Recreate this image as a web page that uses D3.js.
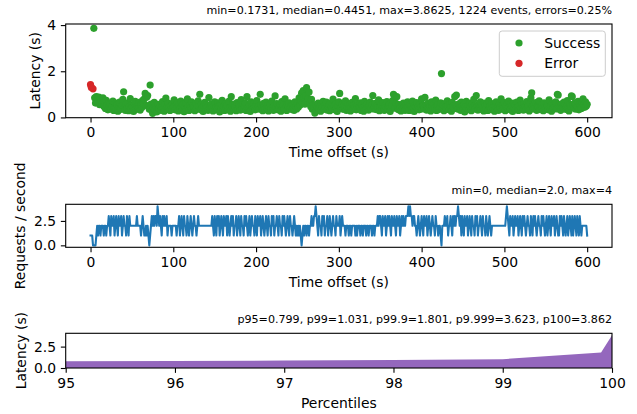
<!DOCTYPE html>
<html>
<head>
<meta charset="utf-8">
<script src="https://cdn.jsdelivr.net/npm/d3@7"></script>
<style>
  body { margin: 0; background: #fff; }
  text { font-family: "DejaVu Sans", sans-serif; fill: #000; }
</style>
</head>
<body>
<div id="chart"></div>
<script>
var svgWidth = 637;
var svgHeight = 414;

// Chart data
var scatterTitle = "min=0.1731, median=0.4451, max=3.8625, 1224 events, errors=0.25%";
var rateTitle = "min=0, median=2.0, max=4";
var percentileTitle = "p95=0.799, p99=1.031, p99.9=1.801, p9.999=3.623, p100=3.862";

var errorTimes = [0, 1, 3];
var errorLatency = [1.42, 1.30, 1.24];

// successful requests, one per second starting at successStart
var successStart = 4;
var successLatency = [
  3.86, 0.85, 0.62, 0.90, 0.75, 0.68, 0.88, 0.55, 0.80, 0.70, 0.60, 0.85, 0.48, 0.66, 0.39, 0.74, 0.52, 0.33, 0.61, 0.45,
  0.58, 0.36, 0.49, 0.71, 0.30, 0.44, 0.62, 0.38, 0.55, 0.27, 0.47, 0.66, 0.41, 0.35, 0.52, 0.78, 1.11, 0.43, 0.31, 0.57,
  0.40, 0.63, 0.29, 0.48, 0.82, 0.37, 0.54, 0.44, 0.26, 0.59, 0.70, 0.34, 0.46, 0.51, 0.39, 0.65, 0.32, 0.55, 0.43, 0.74,
  0.60, 0.81, 1.04, 0.52, 0.88, 0.95, 0.47, 0.36, 1.40, 0.58, 0.29, 0.18, 0.42, 0.65, 0.33, 0.50, 0.24, 0.45, 0.57, 0.38,
  0.53, 0.31, 0.46, 0.69, 0.40, 0.27, 0.56, 0.84, 0.35, 0.48, 0.62, 0.43, 0.30, 0.51, 0.37, 0.58, 0.45, 0.76, 0.33, 0.49,
  0.41, 0.64, 0.28, 0.52, 0.39, 0.71, 0.46, 0.34, 0.57, 0.25, 0.48, 0.62, 0.36, 0.80, 0.44, 0.30, 0.53, 0.40, 0.67, 0.35,
  0.50, 0.43, 0.29, 0.61, 0.38, 0.55, 0.72, 0.47, 1.00, 0.33, 0.58, 0.42, 0.26, 0.49, 0.65, 0.37, 0.54, 0.44, 0.31, 0.86,
  0.46, 0.35, 0.59, 0.41, 0.28, 0.52, 0.68, 0.39, 0.45, 0.33, 0.63, 0.50, 0.24, 0.56, 0.42, 0.74, 0.37, 0.48, 0.30, 0.60,
  0.44, 0.53, 0.34, 0.70, 0.40, 0.27, 0.90, 0.47, 0.58, 0.36, 0.51, 0.43, 0.29, 0.64, 0.38, 0.55, 0.45, 0.32, 0.77, 0.41,
  0.57, 0.35, 0.49, 0.62, 0.30, 0.90, 0.44, 0.39, 0.54, 0.26, 0.68, 0.46, 0.37, 0.59, 0.42, 0.33, 0.51, 0.73, 0.40, 0.48,
  0.36, 1.00, 0.55, 0.43, 0.29, 0.61, 0.47, 0.34, 0.66, 0.40, 0.52, 0.28, 0.45, 0.58, 0.37, 0.71, 0.42, 0.31, 0.50, 0.93,
  0.44, 0.60, 0.33, 0.49, 0.38, 0.56, 0.27, 0.69, 0.45, 0.52, 0.35, 0.81, 0.41, 0.30, 0.57, 0.46, 0.63, 0.39, 0.50, 0.34,
  0.55, 0.42, 0.31, 0.67, 0.48, 0.37, 0.60, 0.44, 0.85, 0.53, 0.72, 1.05, 0.62, 1.16, 0.88, 0.58, 0.95, 1.29, 0.70, 0.83,
  1.10, 0.64, 0.47, 0.78, 0.36, 0.52, 0.41, 0.19, 0.56, 0.30, 0.45, 0.62, 0.38, 0.49, 0.27, 0.58, 0.43, 0.70, 0.35, 0.51,
  0.40, 0.66, 0.32, 0.47, 0.55, 0.29, 0.61, 0.44, 0.37, 0.79, 0.48, 0.33, 0.57, 0.42, 0.26, 0.53, 0.68, 1.04, 0.39, 0.46,
  0.58, 0.35, 0.50, 0.43, 0.72, 0.31, 0.47, 0.60, 0.38, 0.54, 0.28, 0.45, 0.65, 0.36, 0.52, 0.41, 0.82, 0.33, 0.49, 0.57,
  0.39, 0.46, 0.63, 0.30, 0.55, 0.42, 0.27, 0.70, 0.48, 0.36, 0.59, 0.44, 0.32, 0.51, 0.66, 0.40, 0.53, 0.95, 0.37, 0.45,
  0.61, 0.34, 0.50, 0.43, 0.76, 0.29, 0.47, 0.56, 0.38, 0.64, 0.41, 0.31, 0.53, 0.45, 0.69, 0.35, 0.49, 0.58, 0.26, 0.44,
  0.52, 0.73, 1.00, 0.95, 0.40, 0.61, 0.90, 0.47, 0.33, 0.56, 0.42, 0.28, 0.50, 0.37, 0.62, 0.45, 0.31, 0.54, 0.39, 0.67,
  0.43, 0.30, 0.57, 0.48, 0.35, 0.71, 0.41, 0.26, 0.53, 0.46, 0.64, 0.38, 0.50, 0.33, 0.59, 0.44, 0.80, 0.37, 0.52, 0.40,
  0.87, 0.55, 0.32, 0.47, 0.62, 0.39, 0.51, 0.28, 0.68, 0.44, 0.36, 0.58, 0.42, 0.75, 0.30, 0.49, 0.56, 0.34, 0.45, 0.63,
  1.90, 0.41, 0.53, 0.29, 0.60, 0.46, 0.37, 0.72, 0.50, 0.33, 0.57, 0.43, 0.27, 0.65, 0.48, 0.39, 0.90, 0.54, 0.97, 0.44,
  0.36, 0.59, 0.42, 0.31, 0.66, 0.49, 0.38, 0.55, 0.24, 0.47, 0.70, 0.40, 0.52, 0.34, 0.61, 0.45, 0.29, 0.57, 0.43, 0.78,
  0.50, 0.37, 0.95, 0.46, 0.32, 0.58, 0.41, 0.67, 0.35, 0.53, 0.44, 0.28, 0.62, 0.48, 0.39, 0.56, 0.30, 0.73, 0.45, 0.51,
  0.34, 0.60, 0.42, 0.55, 0.27, 0.49, 0.68, 0.38, 0.46, 0.31, 0.57, 0.43, 0.80, 0.36, 0.52, 0.40, 0.64, 0.29, 0.47, 0.54,
  0.39, 0.71, 0.45, 0.33, 0.58, 0.48, 0.26, 0.62, 0.41, 0.53, 0.36, 0.66, 0.44, 0.30, 0.50, 0.75, 0.38, 0.56, 0.42, 0.32,
  0.59, 0.46, 0.35, 0.69, 0.43, 0.52, 0.28, 0.60, 0.85, 1.07, 0.48, 0.37, 0.55, 0.41, 0.64, 0.31, 0.50, 0.45, 0.72, 0.34,
  0.47, 0.56, 0.40, 0.29, 0.63, 0.44, 0.36, 0.58, 0.51, 0.33, 0.76, 0.42, 0.48, 0.27, 0.61, 0.39, 0.54, 0.45, 0.68, 0.37,
  1.00, 0.97, 0.50, 0.43, 0.31, 0.59, 0.46, 0.38, 0.66, 0.52, 0.35, 0.44, 0.73, 0.40, 0.28, 0.57, 0.48, 0.93, 0.90, 0.55,
  0.42, 0.63, 0.36, 0.51, 0.45, 0.70, 0.33, 0.58, 0.47, 0.39, 0.62, 0.80, 0.54, 0.44, 0.68, 0.49, 0.57
];

// requests per second, one value per second from t = 0
var requestsPerSecond = [
  1,1,1,0,0,0,0,1, 2,1,2,2,1,2,2,2,1,2,2,1,2,2, 3,2,1,3,2,2,3,1,2,3,2,1,3,2,2,3,1,2,3,2,2,1,3,2,1,3,2,2,
  2,2,2,2,2,2,3,2,2,2, 2,1,2,3,2,1,1,2,1,2,1,0, 1,2,3,2,3,2,3,3,2, 4, 3,2,3,2,1,3,2,3,2,2,3,1,2, 2,2,2,1,2,
  2,2,2,2,1,2,2, 3,1,2,3,2,1,3,2,2,1,3,2,1,2,3,2,1,2,3,2,2,1,2,3, 2,2,2,2,2,2,2,2,2,2,2,2,2,2,2,2, 3,2,1,
  3,2,1,3,2,3,1,2,3,2, 1,3,2,2,3,1,3,2,1,2, 3,2,3,1,2,2,3,1,2,3, 2,1,3,2,2,1,3,2,3,2, 1,2,3,1,2,3,2,2,1,3,
  2,1,3,2,2,3,1,2,3,2, 1,2,3,2,1,3,2,2,1,3, 2,3,1,2,2,3,2,1,3,2, 2,1,3,2,3,2,1,2,3,2, 1,3,2,2,1,2,3,2,1,2,
  1,2,1,2,1,0,1,2,1,2,2,1,2,2,1,2,2,3,2, 2,3,3, 4, 3,2,1,3,2,2,1,3,2,3,1,2,2,3,1,2,3,2,1,2,3,2,2,1,3,2,2,
  2,3,1,2,3,2, 2,2,1,2,2,2,1,2,2,1, 2,2,2,2,1,2,1,2,2,2, 1,2,2,1,2,2,2,1,2,2, 1,2,2,2,1,2,2,1,2,2, 2,3, 2,3,
  3,2,1,3,2,2,3,1,2,3, 2,3,2,1,3,2,2,3,2,1, 3,2,2,3,1,2,3,2,3,2, 2,3, 3,3,4,3,4,3,3,2,3,3, 2,2,1,2,3,2,1,2,
  3,2,1,3,2,2,3,1,2,3,2,1,2,3,2,2,1,3,2,2,1,2,2,1, 0, 2,2,2,3,2,2,3,1,2,2,3,2,1,3,2,3,2,3,3, 4, 3,2,3,1,3,
  2,1,3,2,2,3,1,2,3,2, 1,3,2,2,1,3,2,3,1,2, 2,3,2,1,3,2,2,1,3,2, 1,2,3,2,1, 2,2,2,2,2,2,2,2,2,2,2,2,2,2,2,
  2,2,3, 4, 3,2,1,3,2,2,3,1,2,3, 2,2,3,1,2,3,2,1,3,2, 3,2,1,2,3,2,2,1,3,2, 1,3,2,3,2,1,2,3,2,2, 1,3,2,3,2,1,
  2,3,1,2,3,2,1,3,2,2, 3,1,2,3,2,1,1,3,2,3, 2,1,3,2,1,2,3,1,2,3, 2,1,3,1,2,3,2,1,3,2, 1,3,2,1, 2,2,2,2,2,2,
  1
];

var percentiles = [95, 96, 97, 98, 99, 99.9, 99.99, 100];
var percentileLatency = [0.799, 0.83, 0.87, 0.93, 1.031, 1.801, 3.623, 3.862];

var timeTicks = [0, 100, 200, 300, 400, 500, 600];
var latencyTicks = [0, 2, 4];
var rateTicks = [0, 2.5];
var percentileTicks = [95, 96, 97, 98, 99, 100];

var legendLabels = ["Success", "Error"];
var legendColors = ["#2ca02c", "#d62728"];

// layout
var plotLeft = 65.7;
var plotRight = 612;
var tickLen = 4.86;
var tickFont = "13.9px";

var svg = d3.select("#chart")
  .append("svg")
  .attr("width", svgWidth)
  .attr("height", svgHeight);

// draws the box, ticks, title and labels for one panel
function drawFrame(xScale, yScale, xTicks, yTicks, yFormat, top, bottom, title, xLabel, yLabel, yLabelX) {
  var xAxis = svg.append("g")
    .attr("transform", `translate(0, ${bottom})`)
    .call(d3.axisBottom(xScale).tickValues(xTicks).tickSize(tickLen).tickPadding(tickLen).tickFormat(d3.format("d")));
  var yAxis = svg.append("g")
    .attr("transform", `translate(${plotLeft}, 0)`)
    .call(d3.axisLeft(yScale).tickValues(yTicks).tickSize(tickLen).tickPadding(tickLen).tickFormat(yFormat));

  [xAxis, yAxis].forEach(function(ax) {
    ax.select(".domain").remove();
    ax.selectAll(".tick line").attr("stroke", "#000").attr("stroke-width", 1.1);
    ax.selectAll(".tick text")
      .attr("font-family", "DejaVu Sans")
      .attr("font-size", tickFont)
      .attr("fill", "#000");
  });

  svg.append("rect")
    .attr("x", plotLeft)
    .attr("y", top)
    .attr("width", plotRight - plotLeft)
    .attr("height", bottom - top)
    .attr("fill", "none")
    .attr("stroke", "#000")
    .attr("stroke-width", 1.1);

  svg.append("text")
    .attr("x", plotRight)
    .attr("y", top - 10.5)
    .attr("text-anchor", "end")
    .attr("font-size", "11.1px")
    .text(title);

  svg.append("text")
    .attr("x", (plotLeft + plotRight) / 2)
    .attr("y", bottom + 39.5)
    .attr("text-anchor", "middle")
    .attr("font-size", tickFont)
    .text(xLabel);

  svg.append("text")
    .attr("transform", `translate(${yLabelX}, ${(top + bottom) / 2}) rotate(-90)`)
    .attr("text-anchor", "middle")
    .attr("dy", "0.35em")
    .attr("font-size", tickFont)
    .text(yLabel);
}

// ---- Panel 1: latency scatter
var top1 = 24, bottom1 = 117.7;
var x1 = d3.scaleLinear().domain([-30, 630]).range([plotLeft, plotRight]);
var y1 = d3.scaleLinear().domain([-0.0114, 4.047]).range([bottom1, top1]);

var successData = successLatency.map(function(v, i) { return {t: successStart + i, v: v}; });
var errorData = errorLatency.map(function(v, i) { return {t: errorTimes[i], v: v}; });

svg.append("g").selectAll("circle")
  .data(successData)
  .enter()
  .append("circle")
  .attr("cx", d => x1(d.t))
  .attr("cy", d => y1(d.v))
  .attr("r", 3.6)
  .attr("fill", legendColors[0]);

svg.append("g").selectAll("circle")
  .data(errorData)
  .enter()
  .append("circle")
  .attr("cx", d => x1(d.t))
  .attr("cy", d => y1(d.v))
  .attr("r", 3.6)
  .attr("fill", legendColors[1]);

drawFrame(x1, y1, timeTicks, latencyTicks, d3.format("d"), top1, bottom1,
  scatterTitle, "Time offset (s)", "Latency (s)", 35);

// legend
var legend = svg.append("g");
legend.append("rect")
  .attr("x", 499.3)
  .attr("y", 31)
  .attr("width", 106)
  .attr("height", 45.3)
  .attr("rx", 2.8)
  .attr("fill", "#fff")
  .attr("fill-opacity", 0.8)
  .attr("stroke", "#cccccc")
  .attr("stroke-width", 1);

legendLabels.forEach(function(label, i) {
  var cy = 43 + i * 20.3;
  legend.append("circle")
    .attr("cx", 519)
    .attr("cy", cy)
    .attr("r", 3.6)
    .attr("fill", legendColors[i]);
  legend.append("text")
    .attr("x", 544.3)
    .attr("y", cy)
    .attr("dy", "0.35em")
    .attr("font-size", tickFont)
    .text(label);
});

// ---- Panel 2: requests per second
var top2 = 204.3, bottom2 = 247.3;
var x2 = d3.scaleLinear().domain([-30, 630]).range([plotLeft, plotRight]);
var y2 = d3.scaleLinear().domain([-0.2, 4.2]).range([bottom2, top2]);

var rateLine = d3.line()
  .x((d, i) => x2(i))
  .y(d => y2(d));

svg.append("path")
  .datum(requestsPerSecond)
  .attr("d", rateLine)
  .attr("fill", "none")
  .attr("stroke", "#1f77b4")
  .attr("stroke-width", 2.08)
  .attr("stroke-linejoin", "round")
  .attr("stroke-linecap", "square");

drawFrame(x2, y2, timeTicks, rateTicks, d3.format(".1f"), top2, bottom2,
  rateTitle, "Time offset (s)", "Requests / second", 20.5);

// ---- Panel 3: latency percentiles
var top3 = 333.3, bottom3 = 368;
var x3 = d3.scaleLinear().domain([95, 100]).range([plotLeft, plotRight]);
var y3 = d3.scaleLinear().domain([0, 4.055]).range([bottom3, top3]);

var percentileArea = d3.area()
  .x((d, i) => x3(percentiles[i]))
  .y0(y3(0))
  .y1(d => y3(d));

svg.append("path")
  .datum(percentileLatency)
  .attr("d", percentileArea)
  .attr("fill", "#9467bd");

drawFrame(x3, y3, percentileTicks, rateTicks, d3.format(".1f"), top3, bottom3,
  percentileTitle, "Percentiles", "Latency (s)", 21.5);
</script>
</body>
</html>
